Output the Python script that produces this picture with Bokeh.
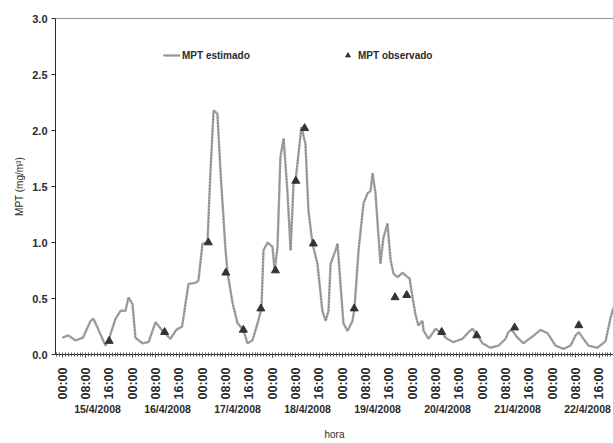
import math
from bokeh.plotting import figure
from bokeh.models import (Range1d, FixedTicker, LinearAxis, Span, Legend, LegendItem,
                          NumeralTickFormatter)
from bokeh.embed import file_html
from bokeh.resources import INLINE

# ---- data (hours since 15/4/2008 00:00) ----
hours_est = [0, 2, 4.5, 7, 9.6, 10.6, 12, 14.7, 15.8, 18.2, 19.9, 21.6, 22.6, 24, 25, 27.4, 29.5,
             31.9, 34.3, 37, 39, 41, 43.2, 45.6, 46.6, 48, 49.7, 50.7, 51.8, 53.1, 54.2, 55.9,
             56.6, 58.3, 60, 62, 63.4, 65.1, 66.9, 68.2, 68.9, 70.3, 72, 72.7, 73.7, 74.7, 75.8,
             77.1, 78.2, 79.2, 79.9, 81.9, 83.3, 84.3, 85.7, 87.4, 89.1, 90.2, 91.2, 91.9, 93.6,
             94.3, 95.3, 96.3, 97.7, 99.4, 100.1, 101.5, 103.2, 104.6, 105.6, 106.3, 107.3, 109,
             110, 111.4, 112.5, 113.5, 114.9, 116.6, 118.3, 119, 120, 121, 122, 123.4, 123.8,
             125.5, 127.9, 129, 130.3, 131.3, 134, 137.1, 139.2, 140.6, 142.3, 144, 146.7, 149.5,
             151.9, 152.9, 154, 156, 158, 161.1, 163.9, 166.3, 169, 171.8, 174.2, 175.9, 177,
             178.3, 180.3, 183.4, 186.2, 187.9, 188.9]
mpt_est = [0.15, 0.17, 0.125, 0.15, 0.30, 0.32, 0.24, 0.08, 0.13, 0.32, 0.39, 0.39, 0.51, 0.45, 0.15,
           0.10, 0.11, 0.29, 0.21, 0.14, 0.22, 0.25, 0.63, 0.64, 0.66, 0.99, 1.0, 1.62, 2.18, 2.15,
           1.62, 0.93, 0.73, 0.46, 0.28, 0.22, 0.10, 0.125, 0.28, 0.41, 0.93, 1.0, 0.96, 0.75,
           0.955, 1.76, 1.93, 1.46, 0.93, 1.52, 1.55, 2.03, 1.88, 1.29, 0.99, 0.81, 0.39, 0.30,
           0.39, 0.81, 0.93, 0.99, 0.63, 0.28, 0.21, 0.30, 0.41, 0.93, 1.35, 1.44, 1.46, 1.62,
           1.44, 0.81, 1.04, 1.17, 0.84, 0.72, 0.69, 0.73, 0.69, 0.68, 0.51, 0.36, 0.26, 0.30,
           0.21, 0.14, 0.23, 0.21, 0.19, 0.15, 0.11, 0.14, 0.20, 0.23, 0.17, 0.10, 0.06, 0.08,
           0.14, 0.20, 0.22, 0.15, 0.10, 0.16, 0.22, 0.19, 0.08, 0.05, 0.08, 0.17, 0.20, 0.15,
           0.08, 0.06, 0.12, 0.33, 0.42]

hours_obs = [16, 35, 50, 56, 62, 68, 73, 80, 83, 86, 100, 114, 118, 130, 142, 155, 177]
mpt_obs = [0.12, 0.20, 1.0, 0.73, 0.22, 0.41, 0.75, 1.55, 2.02, 0.99, 0.41, 0.51, 0.53, 0.20,
           0.17, 0.24, 0.26]

hour_labels = ["00:00", "08:00", "16:00"]
date_labels = ["15/4/2008", "16/4/2008", "17/4/2008", "18/4/2008",
               "19/4/2008", "20/4/2008", "21/4/2008", "22/4/2008"]
y_ticks = [0.0, 0.5, 1.0, 1.5, 2.0, 2.5, 3.0]

FONT = "Liberation Sans"
INK = "#2a2a2a"

p = figure(width=613, height=443, output_backend="svg", toolbar_location=None,
           x_range=Range1d(-2.4, 188.9), y_range=Range1d(0, 3.0),
           x_axis_type=None, min_border_left=55, min_border_top=18,
           min_border_right=0, min_border_bottom=89)
p.outline_line_color = None
p.xgrid.grid_line_color = None
p.ygrid.grid_line_color = None
p.background_fill_color = "white"
p.border_fill_color = "white"

# y axis
ya = p.yaxis[0]
ya.ticker = FixedTicker(ticks=y_ticks)
ya.formatter = NumeralTickFormatter(format="0.0")
ya.axis_label = "MPT (mg/m³)"
ya.axis_label_text_font = FONT
ya.axis_label_text_font_size = "10px"
ya.axis_label_text_font_style = "normal"
ya.axis_label_text_color = INK
ya.axis_label_standoff = 4
ya.major_label_text_font = FONT
ya.major_label_text_font_size = "11px"
ya.major_label_text_font_style = "bold"
ya.major_label_text_color = INK
ya.major_label_standoff = 4
ya.major_tick_out = 4
ya.major_tick_in = 0
ya.minor_tick_line_color = None
ya.axis_line_color = INK
ya.major_tick_line_color = INK

# x axis: hours
tick_pos = [d * 24 + h for d in range(len(date_labels)) for h in (0, 8, 16)]
overrides = {t: hour_labels[i % 3] for i, t in enumerate(tick_pos)}
xa = LinearAxis(ticker=FixedTicker(ticks=tick_pos, minor_ticks=list(range(-2, 189))),
                major_label_overrides=overrides)
xa.major_label_orientation = math.pi / 2
xa.major_label_text_font = FONT
xa.major_label_text_font_size = "12.5px"
xa.major_label_text_font_style = "bold"
xa.major_label_text_color = INK
xa.major_label_standoff = 10
xa.major_tick_out = 3
xa.major_tick_in = 0
xa.minor_tick_out = 2
xa.minor_tick_in = 2
xa.axis_line_color = INK
xa.major_tick_line_color = INK
xa.minor_tick_line_color = "#555555"
p.add_layout(xa, "below")

# x axis: dates
date_pos = [d * 24 + 12 for d in range(len(date_labels))]
xd = LinearAxis(ticker=FixedTicker(ticks=date_pos, minor_ticks=[]),
                major_label_overrides={t: date_labels[i] for i, t in enumerate(date_pos)})
xd.axis_line_color = None
xd.major_tick_line_color = None
xd.minor_tick_line_color = None
xd.major_tick_out = 0
xd.major_tick_in = 0
xd.major_label_standoff = 0
xd.major_label_text_font = FONT
xd.major_label_text_font_size = "10.5px"
xd.major_label_text_font_style = "bold"
xd.major_label_text_color = INK
xd.axis_label = "hora"
xd.axis_label_text_font = FONT
xd.axis_label_text_font_size = "10px"
xd.axis_label_text_font_style = "normal"
xd.axis_label_text_color = INK
xd.axis_label_standoff = 11
p.add_layout(xd, "below")

# top border
p.add_layout(Span(location=3.0, dimension="width", line_color=INK, line_width=1.2))

# series
r_est = p.line(hours_est, mpt_est, line_color="#a6a6a6", line_width=2.4)
r_est_dots = p.line(hours_est, mpt_est, line_color="#6e6e6e", line_width=1.0, line_dash="1 2")
r_obs = p.scatter(hours_obs, mpt_obs, marker="triangle", size=8,
                  fill_color="#333333", line_color="#333333")

def mk_legend(item, x, y):
    lg = Legend(items=[item], location=(x, y), orientation="horizontal",
                border_line_color=None, background_fill_alpha=0, padding=0, margin=0,
                glyph_width=17, glyph_height=12, label_standoff=2, spacing=0,
                label_text_font=FONT, label_text_font_size="10px",
                label_text_font_style="bold", label_text_color=INK)
    p.add_layout(lg, "center")

mk_legend(LegendItem(label="MPT estimado", renderers=[r_est, r_est_dots]), 108, 293)
mk_legend(LegendItem(label="MPT observado", renderers=[r_obs]), 284, 293)

open("out.html", "w").write(file_html(p, INLINE))
